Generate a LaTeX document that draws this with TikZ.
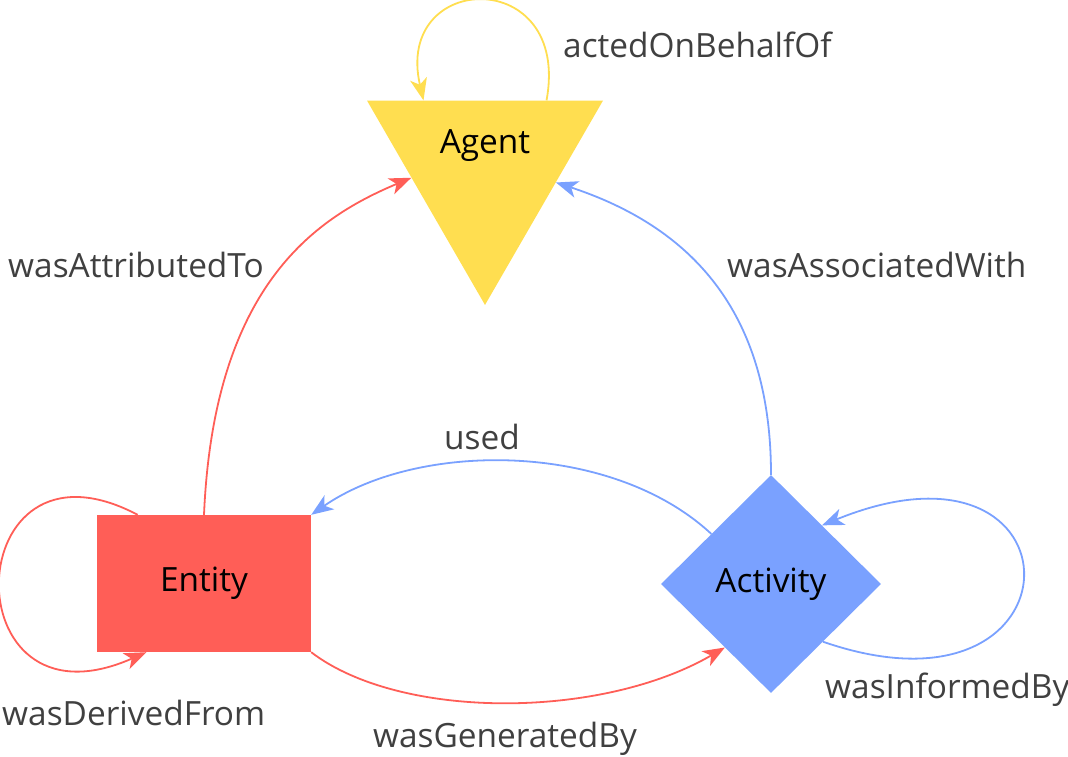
\documentclass[tikz,border=0pt]{standalone}
\usepackage{fontspec}
\setmainfont{Open Sans}
\usepackage{tikz}
\usetikzlibrary{shapes.geometric,arrows.meta}
\definecolor{agentyellow}{RGB}{255,222,80}
\definecolor{entityred}{RGB}{255,94,87}
\definecolor{activityblue}{RGB}{122,161,255}
\definecolor{labelgray}{RGB}{64,64,64}
\tikzset{
  >={Stealth[length=22pt,width=17pt,inset=6pt]},
  agentnode/.style={regular polygon, regular polygon sides=3, shape border rotate=180,
    minimum size=272.5pt, inner sep=0pt, fill=agentyellow},
  entitynode/.style={rectangle, minimum width=214pt, minimum height=137pt, inner sep=0pt, fill=entityred},
  activitynode/.style={diamond, minimum width=220pt, minimum height=218pt, inner sep=0pt, fill=activityblue},
  agentedge/.style={draw=agentyellow, line width=1.8pt},
  entityedge/.style={draw=entityred, line width=1.8pt},
  activityedge/.style={draw=activityblue, line width=1.8pt},
  rel/.style={text=labelgray, inner sep=0pt},
}

\begin{document}
\begin{tikzpicture}[->, x=1pt, y=-1pt, font=\fontsize{33.4}{40}\selectfont]
    \useasboundingbox (0,0) rectangle (1068,757);
    \node[agentnode, label={[yshift=23pt]center:Agent}] (agent) at (485,168.7) {};
    \node[entitynode]   (entity)   at (204,583.5) {Entity};
    \node[activitynode] (activity) at (771,584) {Activity};

    \draw[agentedge] (agent.48) .. controls +(25,-135) and +(-30,-130) .. (agent.132);
    \draw[entityedge] (entity.north) .. controls +(10,-235) and +(-90,38) .. (agent.187);
    \draw[activityedge] (activity.north) .. controls +(0,-155) and +(143,47) .. (agent.349);
    \draw[activityedge] (activity.140) .. controls +(-100,-93) and +(107,-74) .. (entity.north east);
    \draw[entityedge] (entity.south east) .. controls +(89,68) and +(-124,72) .. (activity.234);
    \draw[entityedge] (entity.134) .. controls +(-180,-95) and +(-197,87) .. (entity.230);
    \draw[activityedge] (activity.312) .. controls +(266,92) and +(267,-109) .. (activity.49);

    \node[rel, anchor=west] (actedon)    at (563,45)  {actedOnBehalfOf};
    \node[rel, anchor=west] (attributed) at (8,265)   {wasAttributedTo};
    \node[rel, anchor=west] (associated) at (727,265) {wasAssociatedWith};
    \node[rel]              (used)       at (482,437) {used};
    \node[rel]              (generated)  at (505,739) {wasGeneratedBy};
    \node[rel, anchor=west] (derived)    at (2,713)   {wasDerivedFrom};
    \node[rel, anchor=west] (informed)   at (825,690) {wasInformedBy};
\end{tikzpicture}
\end{document}
